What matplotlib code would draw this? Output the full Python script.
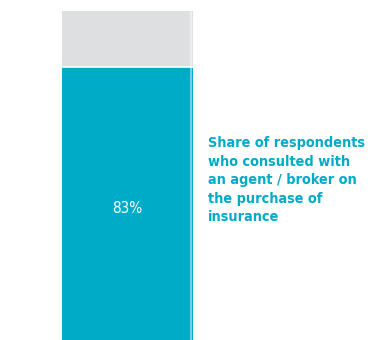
import matplotlib.pyplot as plt

# data
categories = ["Consulted agent / broker"]
consulted = [83]
rest = [17]
value_labels = ["83%"]
caption = "Share of respondents\nwho consulted with\nan agent / broker on\nthe purchase of\ninsurance"

teal = "#00abc8"
grey = "#dedfe0"

fig = plt.figure(figsize=(3.77, 3.40), dpi=100)
ax = fig.add_axes([62 / 377, -1 / 340, 131 / 377, 330 / 340])

ax.bar(categories, consulted, width=1.0, color=teal, edgecolor="none")
ax.bar(categories, rest, bottom=consulted, width=1.0, color=grey, edgecolor="none")
# white gap between segments + light strip on the right edge
ax.axhline(consulted[0], color="white", lw=1.2)
ax.axvline(0.485, color="white", lw=1.5, alpha=0.45)

ax.text(0, consulted[0] * 0.485, value_labels[0], ha="center", va="center",
        color="white", fontsize=11, fontstretch="condensed")

ax.set_xlim(-0.5, 0.5)
ax.set_ylim(0, 100)
ax.axis("off")

fig.text(208 / 377, 1 - 136 / 340, caption, ha="left", va="top", color=teal,
         fontsize=10.4, fontweight="bold", fontstretch="condensed", linespacing=1.42)

fig.savefig("out.png", dpi=100)
